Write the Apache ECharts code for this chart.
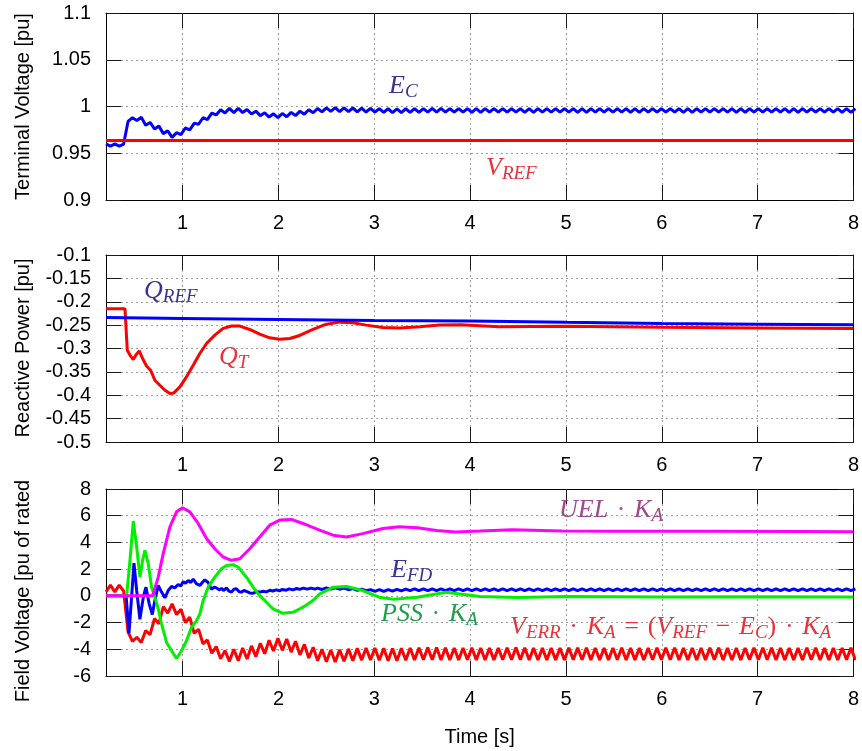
<!DOCTYPE html>
<html><head><meta charset="utf-8">
<script src="https://cdn.jsdelivr.net/npm/echarts@6/dist/echarts.min.js"></script>
<style>html,body{margin:0;padding:0;background:#fff}#c{width:862px;height:751px}</style>
</head><body><div id="c"></div>
<script>
// ---- axis ticks ----
const xTicks = [1, 2, 3, 4, 5, 6, 7, 8];
const xRange = [0.2, 8];
const y1Range = [0.9, 1.1, 0.05];
const y2Range = [-0.5, -0.1, 0.05];
const y3Range = [-6, 8, 2];

// ---- sampling grid of the rippled traces (start, step) ----
const ZT0 = 0.2, ZDT = 0.046;

// ---- panel 1: terminal voltage ----
const vRef = [[0.2, 0.9636], [8, 0.9636]];
const eC = [
  0.9600,0.9575,0.9600,0.9575,0.9598,0.9840,0.9880,0.9850,0.9885,0.9800,
  0.9830,0.9760,0.9790,0.9710,0.9740,0.9670,0.9720,0.9700,0.9770,0.9750,
  0.9820,0.9810,0.9880,0.9860,0.9930,0.9910,0.9965,0.9930,0.9980,0.9935,
  0.9980,0.9935,0.9968,0.9920,0.9950,0.9902,0.9933,0.9887,0.9922,0.9882,
  0.9925,0.9890,0.9937,0.9903,0.9950,0.9918,0.9966,0.9933,0.9978,0.9943,
  0.9986,0.9947,0.9987,0.9946,0.9986,0.9945,0.9984,0.9943,0.9982,0.9941,
  0.9980,0.9939,0.9978,0.9937,0.9976,0.9935,0.9975,0.9935,0.9976,0.9937,
  0.9977,0.9938,0.9978,0.9939,0.9979,0.9940,0.9979,0.9940,0.9978,0.9939,
  0.9978,0.9939,0.9977,0.9938,0.9977,0.9938,0.9978,0.9939,0.9978,0.9939,
  0.9978,0.9939,0.9978,0.9939,0.9977,0.9938,0.9977,0.9938,0.9978,0.9939,
  0.9978,0.9939,0.9978,0.9939,0.9978,0.9939,0.9977,0.9938,0.9977,0.9938,
  0.9978,0.9939,0.9978,0.9939,0.9978,0.9939,0.9978,0.9939,0.9977,0.9938,
  0.9977,0.9938,0.9978,0.9939,0.9978,0.9939,0.9978,0.9939,0.9978,0.9939,
  0.9977,0.9938,0.9977,0.9938,0.9978,0.9939,0.9978,0.9939,0.9978,0.9939,
  0.9978,0.9939,0.9977,0.9938,0.9977,0.9938,0.9978,0.9939,0.9978,0.9939,
  0.9978,0.9939,0.9978,0.9939,0.9977,0.9938,0.9977,0.9938,0.9978,0.9939,
  0.9978,0.9939,0.9978,0.9939,0.9978,0.9939,0.9977,0.9938,0.9977,0.9938,
  0.9978
];

// ---- panel 2: reactive power ----
const qRef = [[0.2,-0.2336],[1,-0.2357],[2,-0.2379],[3,-0.2400],[4,-0.2414],[5,-0.2440],[6,-0.2464],[7,-0.2480],[8,-0.2493]];
const qT = [[0.2,-0.215],[0.398,-0.215],[0.422,-0.3036],[0.45,-0.314],[0.485,-0.3236],[0.512,-0.314],[0.547,-0.305],
  [0.582,-0.3214],[0.624,-0.3379],[0.665,-0.3464],[0.71,-0.3679],[0.762,-0.3786],[0.815,-0.3893],[0.867,-0.3964],
  [0.908,-0.395],[0.971,-0.382],[1.04,-0.3607],[1.11,-0.3357],[1.179,-0.3107],[1.249,-0.2893],[1.335,-0.2714],
  [1.422,-0.257],[1.509,-0.252],[1.596,-0.252],[1.7,-0.2593],[1.804,-0.2693],[1.908,-0.2771],[2.013,-0.28],
  [2.117,-0.2786],[2.221,-0.2721],[2.36,-0.2593],[2.499,-0.2479],[2.638,-0.2436],[2.776,-0.245],[2.915,-0.25],
  [3.089,-0.255],[3.263,-0.2564],[3.471,-0.2536],[3.679,-0.2495],[3.9,-0.249],[4.3,-0.2535],[5.0,-0.2525],
  [6.0,-0.2545],[7.0,-0.256],[8,-0.2571]];

// ---- panel 3: field voltage ----
const uelKa = [[0.2,0],[0.686,0],[0.745,1.4],[0.797,3.16],[0.867,5.17],[0.936,6.29],[0.999,6.6],[1.075,6.29],
  [1.162,5.42],[1.249,4.29],[1.335,3.53],[1.422,2.91],[1.509,2.66],[1.596,2.78],[1.7,3.53],[1.804,4.41],
  [1.908,5.29],[2.013,5.67],[2.134,5.72],[2.255,5.42],[2.429,4.92],[2.57,4.54],[2.71,4.41],[2.88,4.66],
  [3.09,5.04],[3.26,5.17],[3.45,5.1],[3.65,4.9],[3.85,4.78],[4.1,4.85],[4.44,4.95],[4.96,4.86],[5.5,4.84],
  [6.5,4.83],[7.5,4.81],[8,4.8]];
const pssKa = [[0.2,0],[0.415,0],[0.45,2.66],[0.485,5.6],[0.52,3.66],[0.554,1.4],[0.582,2.66],[0.606,3.41],
  [0.641,2.41],[0.676,0.65],[0.71,-0.1],[0.745,-0.98],[0.78,-2.11],[0.832,-3.49],[0.884,-4.11],[0.936,-4.69],
  [0.988,-4.11],[1.04,-3.36],[1.092,-2.36],[1.145,-1.86],[1.179,-1.36],[1.214,-0.35],[1.266,0.65],[1.335,1.4],
  [1.405,2.03],[1.457,2.28],[1.526,2.33],[1.578,2.16],[1.665,1.4],[1.735,0.65],[1.804,0.02],[1.874,-0.48],
  [1.943,-0.98],[2.047,-1.31],[2.151,-1.23],[2.256,-0.85],[2.36,-0.35],[2.43,0.15],[2.57,0.65],[2.71,0.7],
  [2.88,0.4],[3.05,-0.1],[3.2,-0.25],[3.45,-0.1],[3.75,0.27],[4.1,-0.05],[4.5,-0.12],[5,-0.05],[6,-0.08],
  [7,-0.07],[8,-0.08]];
const efdEarly = [[0.2,0],[0.41,0],[0.44,-2.8],[0.467,-0.1],[0.492,2.45],[0.52,0.4],[0.554,-1.75],[0.589,-0.1],
  [0.617,0.65],[0.651,-0.6],[0.683,-1.4],[0.71,-0.35],[0.745,0.78],[0.78,0.28],[0.815,-0.15],[0.849,0.4],
  [0.884,0.7],[0.918,0.6],[0.953,0.85],[0.98,0.75],[1.006,1.05],[1.03,0.95],[1.058,1.15],[1.085,1.0],
  [1.11,1.25],[1.145,0.9],[1.179,0.78],[1.205,1.0],[1.231,1.2],[1.266,1.0],[1.3,0.5],[1.33,0.65],[1.353,0.6],
  [1.38,0.45],[1.405,0.55],[1.43,0.4],[1.457,0.6],[1.483,0.35],[1.509,0.28],[1.535,0.5],[1.561,0.53],
  [1.59,0.3],[1.613,0.28],[1.64,0.4],[1.665,0.33],[1.7,0.22],[1.735,0.2],[1.77,0.3],[1.804,0.28],[1.84,0.35],
  [1.874,0.3],[1.91,0.42],[1.94,0.36],[1.978,0.45],[2.01,0.38],[2.04,0.48],[2.08,0.42],[2.11,0.52],[2.15,0.45],
  [2.19,0.55],[2.22,0.48],[2.26,0.58],[2.3,0.5],[2.34,0.58],[2.38,0.5]];
const EFD_LATE_START = 48; // index on the ripple grid
const efdLate = [
  0.58,0.48,0.60,0.50,0.60,0.50,0.58,0.46,0.54,0.42,
  0.50,0.38,0.47,0.34,0.46,0.33,0.47,0.35,0.49,0.37,
  0.51,0.39,0.52,0.39,0.52,0.39,0.52,0.39,0.52,0.39,
  0.52,0.39,0.52,0.39,0.52,0.39,0.52,0.39,0.52,0.39,
  0.52,0.39,0.52,0.39,0.52,0.39,0.52,0.39,0.52,0.39,
  0.52,0.39,0.52,0.39,0.52,0.39,0.52,0.39,0.52,0.39,
  0.52,0.39,0.52,0.39,0.52,0.39,0.52,0.39,0.52,0.39,
  0.52,0.39,0.52,0.39,0.52,0.39,0.52,0.39,0.52,0.39,
  0.52,0.39,0.52,0.39,0.52,0.39,0.52,0.39,0.52,0.39,
  0.52,0.39,0.52,0.39,0.52,0.39,0.52,0.39,0.52,0.39,
  0.52,0.39,0.52,0.39,0.52,0.39,0.52,0.39,0.52,0.39,
  0.52,0.39,0.52,0.39,0.52,0.39,0.52,0.39,0.52,0.39,
  0.52,0.39,0.52
];
const verrKa = [
  0.30,0.80,0.30,0.80,0.35,-2.70,-3.40,-3.10,-3.50,-2.60,
  -2.90,-1.70,-2.10,-0.80,-1.30,-0.60,-1.40,-1.00,-2.00,-1.60,
  -2.80,-2.50,-3.60,-3.30,-4.30,-3.80,-4.70,-4.10,-4.90,-4.00,
  -4.85,-3.90,-4.73,-3.75,-4.55,-3.55,-4.33,-3.33,-4.13,-3.18,
  -4.08,-3.23,-4.21,-3.40,-4.42,-3.63,-4.65,-3.85,-4.85,-4.00,
  -4.93,-4.05,-4.95,-4.03,-4.90,-3.97,-4.85,-3.93,-4.81,-3.90,
  -4.80,-3.90,-4.82,-3.92,-4.85,-3.95,-4.85,-3.93,-4.82,-3.90,
  -4.80,-3.88,-4.78,-3.86,-4.78,-3.87,-4.80,-3.89,-4.81,-3.90,
  -4.80,-3.90,-4.79,-3.89,-4.80,-3.90,-4.81,-3.91,-4.80,-3.90,
  -4.79,-3.88,-4.78,-3.87,-4.79,-3.89,-4.81,-3.90,-4.80,-3.90,
  -4.80,-3.90,-4.81,-3.91,-4.80,-3.89,-4.79,-3.88,-4.79,-3.89,
  -4.80,-3.90,-4.81,-3.91,-4.80,-3.90,-4.79,-3.89,-4.80,-3.90,
  -4.81,-3.91,-4.80,-3.90,-4.79,-3.88,-4.78,-3.88,-4.79,-3.89,
  -4.80,-3.90,-4.81,-3.91,-4.80,-3.90,-4.80,-3.89,-4.79,-3.89,
  -4.80,-3.90,-4.81,-3.91,-4.80,-3.90,-4.79,-3.88,-4.78,-3.88,
  -4.79,-3.89,-4.80,-3.90,-4.81,-3.91,-4.80,-3.90,-4.80,-3.89,
  -4.79,-3.89,-4.80,-3.90,-4.81,-3.91,-4.80,-3.90,-4.79,-3.89,
  -4.80
];

// ---- build ----
const onGrid = (vals, start) => vals.map((v, i) => [ZT0 + (i + (start || 0)) * ZDT, v]);
const efd = efdEarly.concat(onGrid(efdLate, EFD_LATE_START));

const FONT = 'Liberation Sans';
const grids = [
  {left: 106, top: 13, width: 749, height: 187},
  {left: 106, top: 255, width: 749, height: 187},
  {left: 106, top: 489, width: 749, height: 187}
];
const tickStyle = {color: '#1a1a1a', width: 1};
const gridLine = {show: true, lineStyle: {color: '#a0a0a0', width: 1, type: [2, 3]}};

const xAxis = [], yAxis = [];
const yRanges = [y1Range, y2Range, y3Range];
grids.forEach((g, gi) => {
  xAxis.push({
    type: 'value', gridIndex: gi, min: xRange[0], max: xRange[1], splitNumber: 8, position: 'bottom',
    axisLine: {show: true, onZero: false, lineStyle: {color: '#000', width: 1}},
    axisTick: {show: true, inside: true, length: 15, customValues: xTicks, lineStyle: tickStyle},
    axisLabel: {show: true, customValues: xTicks, margin: 13, fontSize: 20, fontFamily: FONT, color: '#000'},
    splitLine: gridLine,
    name: gi === 2 ? 'Time [s]' : '', nameLocation: 'middle', nameGap: 51,
    nameTextStyle: {fontSize: 20, fontFamily: FONT, color: '#000'}
  });
  xAxis.push({
    type: 'value', gridIndex: gi, min: xRange[0], max: xRange[1], splitNumber: 8, position: 'top',
    axisLine: {show: true, onZero: false, lineStyle: {color: '#000', width: 1}},
    axisTick: {show: true, inside: true, length: 15, customValues: xTicks, lineStyle: tickStyle},
    axisLabel: {show: false}, splitLine: {show: false}
  });
  const r = yRanges[gi];
  yAxis.push({
    type: 'value', gridIndex: gi, min: r[0], max: r[1], interval: r[2], position: 'left',
    axisLine: {show: true, onZero: false, lineStyle: {color: '#000', width: 1}},
    axisTick: {show: true, inside: true, length: 15, lineStyle: tickStyle},
    axisLabel: {show: true, margin: 15, fontSize: 20, fontFamily: FONT, color: '#000'},
    splitLine: gridLine
  });
  yAxis.push({
    type: 'value', gridIndex: gi, min: r[0], max: r[1], interval: r[2], position: 'right',
    axisLine: {show: true, onZero: false, lineStyle: {color: '#000', width: 1}},
    axisTick: {show: true, inside: true, length: 15, lineStyle: tickStyle},
    axisLabel: {show: false}, splitLine: {show: false}
  });
});

const line = (gi, data, color, z) => ({
  type: 'line', xAxisIndex: 2 * gi, yAxisIndex: 2 * gi, data: data, symbol: 'none', showSymbol: false,
  lineStyle: {color: color, width: 3}, itemStyle: {color: color}, z: z || 2, animation: false, clip: true
});

const BLUE = '#0000ff', RED = '#ff0000', MAG = '#ff00ff', GREEN = '#00f000';
const series = [
  line(0, onGrid(eC), BLUE, 2),
  line(0, vRef, RED, 3),
  line(1, qT, RED, 2),
  line(1, qRef, BLUE, 3),
  line(2, onGrid(verrKa), RED, 2),
  line(2, efd, BLUE, 3),
  line(2, pssKa, GREEN, 4),
  line(2, uelKa, MAG, 5)
];

const SERIF = 'Liberation Serif';
const rich = (color) => ({
  it: {fontFamily: SERIF, fontStyle: 'italic', fontWeight: 'normal', fontSize: 26, color: color, lineHeight: 30, verticalAlign: 'middle'},
  rm: {fontFamily: SERIF, fontStyle: 'normal', fontWeight: 'normal', fontSize: 26, color: color, lineHeight: 30, verticalAlign: 'middle'},
  sub: {fontFamily: SERIF, fontStyle: 'italic', fontWeight: 'normal', fontSize: 19, color: color, lineHeight: 18, verticalAlign: 'bottom'}
});
const NAVY = '#383590', LRED = '#e8333a', PURP = '#a2488f', DGREEN = '#1f9e4c';
const lab = (text, left, top, color) => ({
  text: text, left: left, top: top, padding: 0,
  textStyle: {fontWeight: 'normal', fontFamily: SERIF, color: color, rich: rich(color)}
});
const DOT = '{rm|\u2004·\u2004}';
const title = [
  lab('{it|E}{sub|C}', 389, 71, NAVY),
  lab('{it|V}{sub|REF}', 486, 153, LRED),
  lab('{it|Q}{sub|REF}', 144, 276, NAVY),
  lab('{it|Q}{sub|T}', 219, 342, LRED),
  lab('{it|UEL}' + DOT + '{it|K}{sub|A}', 559, 495, PURP),
  lab('{it|E}{sub|FD}', 391, 555, NAVY),
  lab('{it|PSS}' + DOT + '{it|K}{sub|A}', 381, 599, DGREEN),
  lab('{it|V}{sub|ERR}' + DOT + '{it|K}{sub|A}{rm|\u2004=\u2004(}{it|V}{sub|REF}{rm|\u2004−\u2004}{it|E}{sub|C}{rm|)}' + DOT + '{it|K}{sub|A}', 510, 612, LRED)
];

const ylab = (text, cx, cy) => ({
  type: 'text', x: cx, y: cy, rotation: Math.PI / 2, silent: true,
  style: {text: text, font: '20px "Liberation Sans"', fill: '#000', align: 'center', verticalAlign: 'middle',
          textAlign: 'center', textVerticalAlign: 'middle'}
});
const graphic = [
  ylab('Terminal Voltage [pu]', 23, 106.5),
  ylab('Reactive Power [pu]', 23, 348),
  ylab('Field Voltage [pu of rated', 23, 591)
];

const chart = echarts.init(document.getElementById('c'), null, {renderer: 'canvas'});
chart.setOption({
  backgroundColor: '#fff', animation: false,
  grid: grids, xAxis: xAxis, yAxis: yAxis, series: series, title: title, graphic: graphic
});
</script></body></html>
